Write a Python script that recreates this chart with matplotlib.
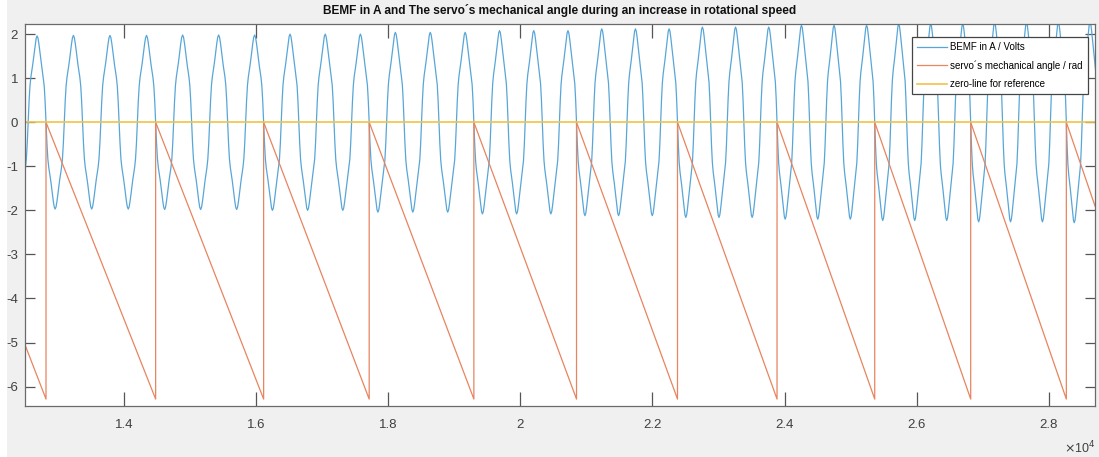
#!/usr/bin/env python3
import numpy as np
import matplotlib
matplotlib.use("Agg")
import matplotlib.pyplot as plt
from matplotlib.patches import Rectangle

# time window shown (samples)
t_start = 12500
t_end = 28700

# servo mechanical angle: value at the window edges and the reset instants
angle_start = -5.05
angle_end = -1.9
resets = [12818, 14478, 16113, 17711, 19296, 20850, 22379, 23886, 25365, 26818, 28266]

# BEMF amplitude for every mechanical revolution (first one starts before the window)
bemf_amp = [1.96, 1.97, 1.98, 2.00, 2.04, 2.08, 2.12, 2.16, 2.20, 2.23, 2.26, 2.28]
# shape of a quarter of one electrical period, zero crossing -> peak (normalised)
bemf_quarter = [0.0, 0.24, 0.42, 0.52, 0.59, 0.66, 0.74, 0.83, 0.91, 0.975, 1.0]
pole_pairs = 3

x_ticks = [14000, 16000, 18000, 20000, 22000, 24000, 26000, 28000]
x_tick_labels = ["1.4", "1.6", "1.8", "2", "2.2", "2.4", "2.6", "2.8"]
y_ticks = [-6, -5, -4, -3, -2, -1, 0, 1, 2]

labels = ["BEMF in A / Volts", "servo´s mechanical angle / rad", "zero-line for reference"]
colors = ["#58a6d8", "#e8845f", "#efc445"]


def main():
    two_pi = 2 * np.pi

    # sawtooth
    saw_x = [t_start]
    saw_y = [angle_start]
    for r in resets:
        saw_x += [r, r]
        saw_y += [-two_pi, 0.0]
    saw_x.append(t_end)
    saw_y.append(angle_end)

    # revolution boundaries (partial first/last revolutions from the edge angles)
    first_period = (resets[0] - t_start) * two_pi / (two_pi + angle_start)
    last_period = (t_end - resets[-1]) * two_pi / (-angle_end)
    bounds = [resets[0] - first_period] + resets + [resets[-1] + last_period]

    # one electrical period, starting at the falling zero crossing
    q = np.array(bemf_quarter)
    half = np.concatenate([q, q[-2::-1]])
    cycle = np.concatenate([-half, half[1:]])
    phase = np.linspace(0, 1, len(cycle))

    bx = []
    by = []
    for k in range(len(bounds) - 1):
        a, b = bounds[k], bounds[k + 1]
        for c in range(pole_pairs):
            bx.append(a + (c + phase) / pole_pairs * (b - a))
            by.append(bemf_amp[k] * cycle)
    bx = np.concatenate(bx)
    by = np.concatenate(by)

    plt.rcParams["font.family"] = ["Liberation Sans", "DejaVu Sans"]

    fig = plt.figure(figsize=(10.99, 4.57), dpi=100, facecolor="#f0f0f0")
    fig.patches.append(Rectangle((0, 0), 7 / 1099, 1, transform=fig.transFigure,
                                 facecolor="white", edgecolor="none"))
    ax = fig.add_axes([25 / 1099, 1 - 406 / 457, 1070 / 1099, 382 / 457])
    ax.set_facecolor("white")

    ax.plot(bx, by, color=colors[0], linewidth=0.9, label=labels[0])
    ax.plot(saw_x, saw_y, color=colors[1], linewidth=0.9, label=labels[1])
    ax.plot([t_start, t_end], [0, 0], color=colors[2], linewidth=1.2, label=labels[2])

    ax.set_xlim(t_start, t_end)
    ax.set_ylim(-6.44, 2.23)
    ax.set_xticks(x_ticks)
    ax.set_xticklabels(x_tick_labels)
    ax.set_yticks(y_ticks)
    ax.set_yticklabels([str(v) for v in y_ticks])

    for s in ax.spines.values():
        s.set_color("#6a6a6a")
        s.set_linewidth(0.9)
    ax.tick_params(axis="x", direction="in", length=10, width=0.9, color="#555555",
                   top=True, labelsize=9.5, labelcolor="#404040", pad=9)
    ax.tick_params(axis="y", direction="in", length=7, width=0.9, color="#555555",
                   right=True, labelsize=9.5, labelcolor="#404040", pad=5)

    ax.set_title("BEMF in A and The servo´s mechanical angle during an increase in rotational speed",
                 fontsize=8.6, fontweight="bold", color="#111111", pad=7)
    fig.text(1080 / 1099, 1 - 448 / 457, r"$\times$10$^{4}$", fontsize=9, color="#404040",
             ha="center", va="center")

    leg = ax.legend(loc="upper right", bbox_to_anchor=(0.9937, 0.9668), borderaxespad=0,
                    fontsize=7, frameon=True, fancybox=False, framealpha=1,
                    edgecolor="#444444", handlelength=3.0, handletextpad=0.4,
                    borderpad=0.55, labelspacing=0.85)
    leg.get_frame().set_linewidth(0.9)

    fig.savefig("out.png", dpi=100, facecolor=fig.get_facecolor())


if __name__ == "__main__":
    main()
